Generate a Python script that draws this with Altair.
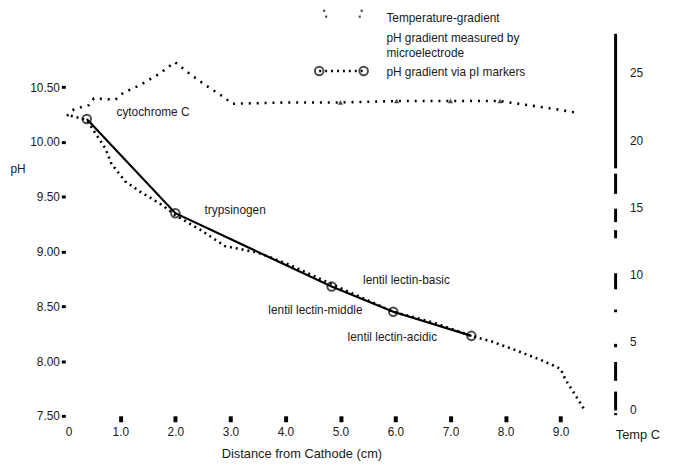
import altair as alt
import pandas as pd

# ---- data ----
temp_x = [0.03, 0.16, 0.43, 0.52, 0.91, 1.05, 1.36, 1.70, 1.99, 2.27, 2.54, 2.88, 3.03, 4.07, 5.0, 6.02, 7.0, 7.9, 8.91, 9.34]
temp_c = [21.8, 22.3, 22.6, 23.1, 23.0, 23.5, 24.1, 24.9, 25.8, 24.9, 24.1, 23.2, 22.7, 22.8, 22.8, 22.9, 22.9, 22.9, 22.3, 22.0]
tri_x = [5.0, 6.02, 7.0, 7.9]
tri_c = [22.8, 22.9, 22.9, 22.9]

me_x = [0.1, 0.39, 0.73, 0.84, 1.09, 1.38, 1.55, 1.8, 2.0, 2.45, 2.9, 3.5, 4.07, 4.85, 5.96, 6.7, 7.38, 7.74, 8.18, 8.64, 9.0, 9.09, 9.23, 9.38, 9.45]
me_ph = [10.24, 10.2, 9.94, 9.80, 9.64, 9.54, 9.49, 9.41, 9.33, 9.2, 9.05, 8.99, 8.88, 8.70, 8.45, 8.35, 8.23, 8.18, 8.10, 8.01, 7.93, 7.83, 7.72, 7.60, 7.54]

pi_names = ["cytochrome C", "trypsinogen", "lentil lectin-basic", "lentil lectin-middle", "lentil lectin-acidic"]
pi_x = [0.39, 2.0, 4.84, 5.96, 7.38]
pi_ph = [10.21, 9.35, 8.68, 8.45, 8.23]
label_x = [0.93, 2.53, 5.41, 3.69, 5.13]
label_y = [10.27, 9.38, 8.74, 8.47, 8.22]

ph_ticks = [7.5, 8.0, 8.5, 9.0, 9.5, 10.0, 10.5]
temp_ticks = [0, 5, 10, 15, 20, 25]
x_ticks = [0, 1, 2, 3, 4, 5, 6, 7, 8, 9]

# right-axis (temperature) line drawn as broken segments, in °C
axis_seg_top = [27.9, 17.5, 14.9, 13.3, 10.1, 7.4, 4.85, 3.5, 1.3, -0.3]
axis_seg_bot = [17.9, 16.0, 13.9, 12.7, 8.9, 7.2, 4.6, 2.1, -0.1, -0.45]

legend_text = ["Temperature-gradient", "pH gradient measured by", "microelectrode", "pH gradient via pI markers"]

FONT = "Liberation Sans"
INK = "#1a1a1a"
W, H = 557, 388

temp_df = pd.DataFrame({"x": temp_x, "t": temp_c})
tri_df = pd.DataFrame({"x": tri_x, "t": tri_c})
me_df = pd.DataFrame({"x": me_x, "ph": me_ph})
pi_df = pd.DataFrame({"name": pi_names, "x": pi_x, "ph": pi_ph, "lx": label_x, "ly": label_y})
seg_df = pd.DataFrame({"a": axis_seg_top, "b": axis_seg_bot})

xscale = alt.Scale(domain=[0, 10], nice=False, zero=False)
phscale = alt.Scale(domain=[7.5, 11.0], nice=False, zero=False)
tscale = alt.Scale(domain=[-0.5, 28.0], nice=False, zero=False)

x_axis = alt.Axis(
    values=x_ticks, labelExpr="datum.value == 0 ? '0' : format(datum.value, '.1f')",
    domain=False, grid=False, tickSize=6, tickWidth=4,
    tickColor={"condition": {"test": "datum.value == 0", "value": "transparent"}, "value": "black"},
    labelPadding=5, labelFont=FONT, labelFontSize=12, labelColor=INK,
    title="Distance from Cathode (cm)", titleFont=FONT, titleFontSize=13, titleFontWeight="normal",
    titleColor=INK, titleX=239, titleY=38, titleAlign="center", titleBaseline="middle",
)
ph_axis = alt.Axis(
    values=ph_ticks, format=".2f", domain=False, grid=False, tickSize=4, tickWidth=3,
    tickColor="black", labelPadding=2, labelFont=FONT, labelFontSize=12, labelColor=INK,
    title="pH", titleAngle=0, titleX=-56, titleY=138, titleAlign="left", titleBaseline="middle",
    titleFont=FONT, titleFontSize=12, titleFontWeight="normal", titleColor=INK,
)
t_axis = alt.Axis(
    values=temp_ticks, orient="right", domain=False, grid=False, ticks=False, labelPadding=14,
    labelFont=FONT, labelFontSize=12, labelColor=INK,
    title="Temp C", titleAngle=0, titleX=22, titleY=407, titleAlign="center", titleBaseline="middle",
    titleFont=FONT, titleFontSize=13, titleFontWeight="normal", titleColor=INK,
)

# ---- pH layers ----
me_line = alt.Chart(me_df).mark_line(
    color="black", strokeWidth=2.6, strokeDash=[2, 4], strokeCap="butt"
).encode(
    x=alt.X("x:Q", scale=xscale, axis=x_axis),
    y=alt.Y("ph:Q", scale=phscale, axis=ph_axis),
)
pi_line = alt.Chart(pi_df).mark_line(color="black", strokeWidth=2.2).encode(
    x=alt.X("x:Q", scale=xscale),
    y=alt.Y("ph:Q", scale=phscale),
)
pi_pts = alt.Chart(pi_df).mark_point(
    shape="circle", filled=False, color="black", strokeWidth=2, size=75
).encode(
    x=alt.X("x:Q", scale=xscale),
    y=alt.Y("ph:Q", scale=phscale),
)
pi_lbl = alt.Chart(pi_df).mark_text(
    align="left", baseline="middle", font=FONT, fontSize=12, color=INK
).encode(
    x=alt.X("lx:Q", scale=xscale),
    y=alt.Y("ly:Q", scale=phscale),
    text="name:N",
)

# ---- legend ----
leg_df = pd.DataFrame({"text": legend_text, "yy": [-15, 6, 21, 40]})
leg_text = alt.Chart(leg_df).mark_text(
    align="left", baseline="middle", font=FONT, fontSize=12, color=INK
).encode(x=alt.value(325), y=alt.Y("yy:Q", scale=None), text="text:N")
leg_dots = alt.Chart(pd.DataFrame({"px": [262, 264, 298, 300], "py": [-22, -16, -16, -22]})).mark_point(
    shape="square", filled=True, color="black", size=5
).encode(x=alt.X("px:Q", scale=None), y=alt.Y("py:Q", scale=None))
leg_pi_line = alt.Chart(pd.DataFrame({"px": [257, 302], "py": [39, 39]})).mark_line(
    color="black", strokeWidth=2.4, strokeDash=[2, 4]
).encode(x=alt.X("px:Q", scale=None), y=alt.Y("py:Q", scale=None))
leg_pi_pts = alt.Chart(pd.DataFrame({"px": [257, 302], "py": [39, 39]})).mark_point(
    shape="circle", filled=False, color="black", strokeWidth=2, size=75
).encode(x=alt.X("px:Q", scale=None), y=alt.Y("py:Q", scale=None))

ph_layer = alt.layer(me_line, pi_line, pi_pts, pi_lbl, leg_text, leg_dots, leg_pi_line, leg_pi_pts)

# ---- temperature layers ----
t_line = alt.Chart(temp_df).mark_line(
    color="black", strokeWidth=2.6, strokeDash=[2, 6], strokeCap="butt"
).encode(
    x=alt.X("x:Q", scale=xscale),
    y=alt.Y("t:Q", scale=tscale, axis=t_axis),
)
t_tri = alt.Chart(tri_df).mark_point(shape="triangle-up", filled=True, color="black", size=28).encode(
    x=alt.X("x:Q", scale=xscale),
    y=alt.Y("t:Q", scale=tscale),
)
t_axis_line = alt.Chart(seg_df).mark_rule(color="black", strokeWidth=3).encode(
    x=alt.value(W),
    y=alt.Y("a:Q", scale=tscale),
    y2="b:Q",
)
t_layer = alt.layer(t_line, t_tri, t_axis_line)

chart = alt.layer(ph_layer, t_layer).resolve_scale(y="independent").properties(
    width=W, height=H,
    background="white",
    autosize=alt.AutoSizeParams(type="none"),
    padding={"left": 58, "top": 22, "right": 50, "bottom": 47},
).configure_view(stroke=None)

chart.save("out.html", embed_options={"renderer": "svg", "actions": False})
